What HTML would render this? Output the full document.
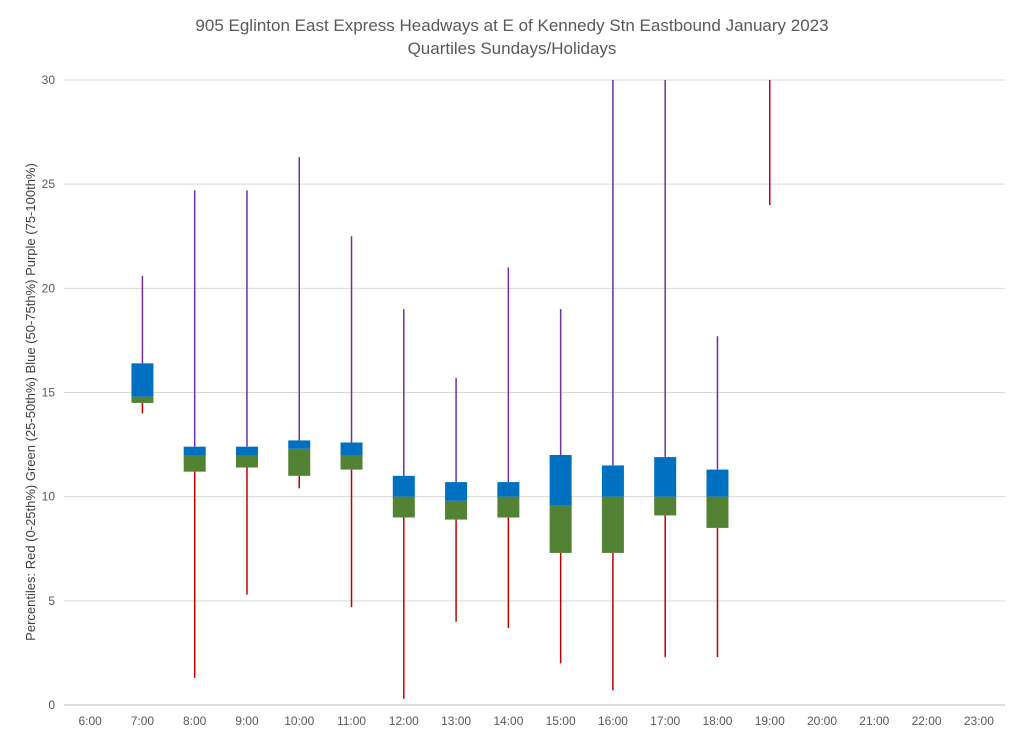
<!DOCTYPE html>
<html><head><meta charset="utf-8"><style>
body{margin:0;background:#fff;font-family:"Liberation Sans",sans-serif;}
</style></head><body>
<svg id="chart" width="1024" height="739" xmlns="http://www.w3.org/2000/svg">
<rect width="1024" height="739" fill="#fff"/>
<text x="512" y="31" text-anchor="middle" font-size="17" fill="#595959">905 Eglinton East Express Headways at E of Kennedy Stn Eastbound January 2023</text>
<text x="512" y="54" text-anchor="middle" font-size="17" fill="#595959">Quartiles Sundays/Holidays</text>
<text transform="translate(35,402) rotate(-90)" text-anchor="middle" font-size="13" fill="#404040">Percentiles:  Red (0-25th%)  Green (25-50th%)  Blue (50-75th%)  Purple (75-100th%)</text>
<g id="grid"></g><g id="marks"></g><g id="labels"></g>
</svg>
<script>
const categories=["6:00","7:00","8:00","9:00","10:00","11:00","12:00","13:00","14:00","15:00","16:00","17:00","18:00","19:00","20:00","21:00","22:00","23:00"];
const minVals=[null,14.0,1.3,5.3,10.4,4.7,0.3,4.0,3.7,2.0,0.7,2.3,2.3,24.0,null,null,null,null];
const q1Vals=[null,14.5,11.2,11.4,11.0,11.3,9.0,8.9,9.0,7.3,7.3,9.1,8.5,30,null,null,null,null];
const medVals=[null,14.8,12.0,12.0,12.3,12.0,10.0,9.8,10.0,9.6,10.0,10.0,10.0,30,null,null,null,null];
const q3Vals=[null,16.4,12.4,12.4,12.7,12.6,11.0,10.7,10.7,12.0,11.5,11.9,11.3,30,null,null,null,null];
const maxVals=[null,20.6,24.7,24.7,26.3,22.5,19.0,15.7,21.0,19.0,30,30,17.7,30,null,null,null,null];
const yTicks=[0,5,10,15,20,25,30];
const L=64,R=1005,T=80,B=705,YMAX=30;
const NS="http://www.w3.org/2000/svg";
const step=(R-L)/categories.length;
function x(i){return L+step*(i+0.5);}
function y(v){return B-(v/YMAX)*(B-T);}
function mk(tag,attrs,parent){const e=document.createElementNS(NS,tag);for(const k in attrs)e.setAttribute(k,attrs[k]);document.getElementById(parent).appendChild(e);return e;}
yTicks.forEach(t=>{
 const g=mk('line',{x1:L,x2:R,y1:y(t),y2:y(t),stroke:t===0?'#bfbfbf':'#d9d9d9','stroke-width':1},'grid');
 
 
 const tx=mk('text',{x:55,y:y(t)+4,'text-anchor':'end','font-size':12,fill:'#595959'},'labels');
 tx.textContent=t;
 
 
});
categories.forEach((c,i)=>{
 const tx=mk('text',{x:x(i),y:725,'text-anchor':'middle','font-size':12,fill:'#595959'},'labels');
 tx.textContent=c;
 
 
 if(minVals[i]==null)return;
 const bw=22,cx=x(i);
 const r=mk('line',{x1:cx,x2:cx,y1:y(minVals[i]),y2:y(q1Vals[i]),stroke:'#c00000','stroke-width':1.5},'marks');
 
 
 const p=mk('line',{x1:cx,x2:cx,y1:y(q3Vals[i]),y2:y(maxVals[i]),stroke:'#7030a0','stroke-width':1.5},'marks');
 
 
 if(q1Vals[i]!==medVals[i]||medVals[i]!==q3Vals[i]){
  const g=mk('rect',{x:cx-bw/2,y:y(medVals[i]),width:bw,height:y(q1Vals[i])-y(medVals[i]),fill:'#548235'},'marks');
  
  
  const b=mk('rect',{x:cx-bw/2,y:y(q3Vals[i]),width:bw,height:y(medVals[i])-y(q3Vals[i]),fill:'#0070c0'},'marks');
  
  
 }
});
</script>
</body></html>
